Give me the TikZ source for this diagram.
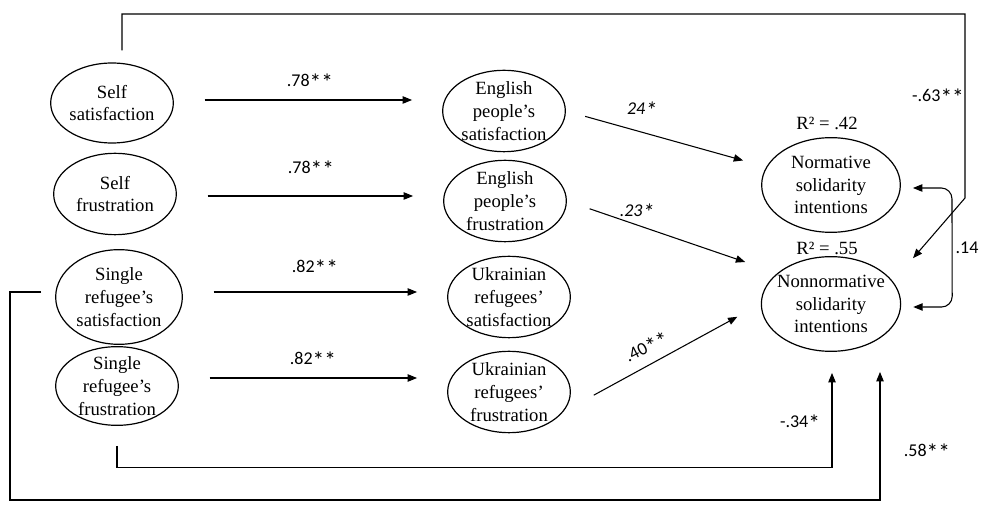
\documentclass[tikz,border=0pt]{standalone}
\usepackage{fontspec}
\usepackage{graphicx}
\setmainfont{Liberation Serif}
\newfontfamily\coeffont{Carlito}
\newcommand*\sigstar{\raisebox{-0.2em}{\scalebox{1.3}{*}}}
\usetikzlibrary{shapes.geometric,arrows.meta,calc}

\tikzset{
  latent/.style={ellipse, draw, line width=0.9pt, align=center, inner xsep=0.5pt, inner ysep=-2.5pt,
    minimum width=92pt, minimum height=61pt, font=\fontsize{14}{17}\selectfont},
  effect/.style={line width=0.8pt, -{Triangle[length=7pt,width=5.5pt]}},
  across/.style={effect, shorten <=23pt, shorten >=22.5pt},
  coef/.style={font=\coeffont\fontsize{13.5}{16}\selectfont},
  rsq/.style={font=\fontsize{14}{17}\selectfont}
}

\begin{document}
\begin{tikzpicture}[x=0.75pt, y=-0.75pt]
		\useasboundingbox (0,0) rectangle (986,509);

		% Left column
		\node[latent, minimum height=60pt] (L1) at (112,103) {Self\\satisfaction};
		\node[latent] (L2) at (115,194) {Self\\frustration};
		\node[latent, minimum height=71pt, minimum width=95pt] (L3) at (119,297) {Single\\refugee’s\\satisfaction};
		\node[latent, minimum height=59pt] (L4) at (117,386) {Single\\refugee’s\\frustration};

		% Middle column
		\node[latent] (M1) at (504,111) {English\\people’s\\satisfaction};
		\node[latent] (M2) at (505,201) {English\\people’s\\frustration};
		\node[latent] (M3) at (509,297) {Ukrainian\\refugees’\\satisfaction};
		\node[latent] (M4) at (509,392) {Ukrainian\\refugees’\\frustration};

		% Outcomes
		\node[latent, inner xsep=-3.5pt, minimum width=104pt, minimum height=71pt] (N1) at (831,185) {Normative\\solidarity\\intentions};
		\node[latent, inner xsep=-3.5pt, minimum width=104pt, minimum height=71pt] (N2) at (831,304) {Nonnormative\\solidarity\\intentions};
		\node[rsq] (R1) at (827,123) {R² = .42};
		\node[rsq] (R2) at (827,248) {R² = .55};

		% Self to group paths
		\draw[across] ([yshift=2.25pt]L1.east) -- ([yshift=2.25pt]L1.east -| M1.west);
		\draw[across] ([yshift=-1.5pt]L2.east) -- ([yshift=-1.5pt]L2.east -| M2.west);
		\draw[across] ([yshift=3.75pt]L3.east) -- ([yshift=3.75pt]L3.east -| M3.west);
		\draw[across] ([yshift=6pt]L4.east) -- ([yshift=6pt]L4.east -| M4.west);
		\node[coef] (c1) at (310,82) {.78\sigstar\sigstar};
		\node[coef] (c2) at (311,169) {.78\sigstar\sigstar};
		\node[coef] (c3) at (315,268) {.82\sigstar\sigstar};
		\node[coef] (c4) at (313,360) {.82\sigstar\sigstar};

		% Group to intentions
		\draw[effect, shorten <=15pt, shorten >=18pt] (M1.east) -- (N1);
		\draw[effect, shorten <=18pt, shorten >=25.5pt] (M2.east) -- (N2.150);
		\draw[effect, shorten <=26pt, shorten >=20pt] (M4.-20) -- (N2.west);
		\node[coef, font=\coeffont\itshape\fontsize{13.5}{16}\selectfont] (c5) at (642,110) {24\sigstar};
		\node[coef, font=\coeffont\itshape\fontsize{13.5}{16}\selectfont] (c6) at (637,212) {.23\sigstar};
		\node[coef, rotate=27] (c7) at (647,348) {.40\sigstar\sigstar};

		% Direct paths
		\coordinate (topR) at (965,14);
		\coordinate (bendR) at (965,198);
		\coordinate (outerB) at (10,500);
		\draw[effect, shorten >=23pt] ($(L1.north)+(10,-12)$) |- (topR) -- (bendR) -- (N2.20);
		\draw[effect] ($(L4.south)+(0,20)$) -- ++(0,22) -| ($(N2.south)+(1,21)$);
		\draw[effect] ($(L3.west)+(-14,-5)$) -| (outerB) -| ($(N2.south)+(49,20)$);
		\node[coef] (c8) at (938,97) {-.63\sigstar\sigstar};
		\node[coef] (c9) at (800,423) {-.34\sigstar};
		\node[coef] (c10) at (927,452) {.58\sigstar\sigstar};

		% Correlation
		\draw[line width=0.8pt, {Triangle[length=7pt,width=5.5pt]}-{Triangle[length=7pt,width=5.5pt]}, rounded corners=8pt]
			($(N1.east)+(12,3)$) -- ($(N1.east)+(51,3)$) -- ($(N2.east)+(51,3)$) -- ($(N2.east)+(12,3)$);
		\node[coef] (c11) at (967,248) {.14};
	\end{tikzpicture}
\end{document}
